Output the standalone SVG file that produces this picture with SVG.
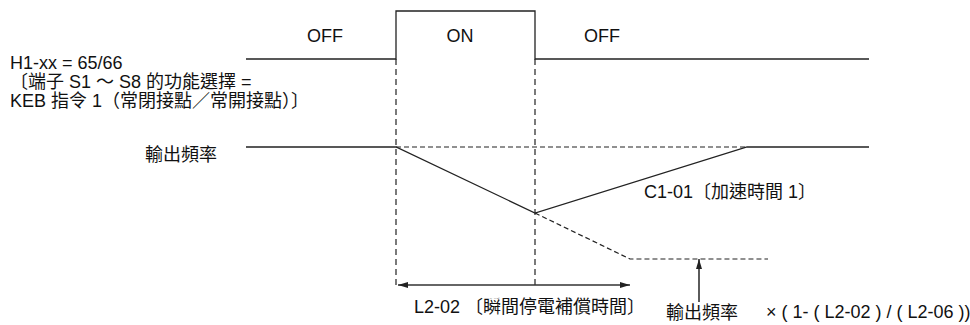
<svg xmlns="http://www.w3.org/2000/svg" width="970" height="325" viewBox="0 0 970 325">
<style>
text{font-family:"Liberation Sans","Noto Sans CJK TC",Arial,sans-serif;font-size:18px;fill:#111}
.s{fill:none;stroke:#222;stroke-width:1.3}
.d{fill:none;stroke:#222;stroke-width:1.2;stroke-dasharray:6 4}
.dh{fill:none;stroke:#222;stroke-width:1.2;stroke-dasharray:5 3}
.a{fill:none;stroke:#333;stroke-width:1.6}
</style>
<defs>
<marker id="ah" viewBox="0 0 10 6" refX="10" refY="3" markerWidth="10" markerHeight="6" markerUnits="userSpaceOnUse" orient="auto-start-reverse">
<path d="M0,0 L10,3 L0,6 z" fill="#222"/>
</marker>
</defs>
<rect width="970" height="325" fill="#fff"/>
<g id="keb-signal">
<polyline class="s" points="246,59 396,59 396,11 535,11 535,59 869,59"/>
<text x="325" y="42" text-anchor="middle">OFF</text>
<text x="460" y="42" text-anchor="middle">ON</text>
<text x="602" y="42" text-anchor="middle">OFF</text>
</g>
<g id="signal-label">
<text x="10" y="69">H1-xx = 65/66</text>
<text x="10" y="88">〔端子 S1 ～ S8 的功能選擇 =</text>
<text x="10" y="107">KEB 指令 1（常閉接點／常開接點）〕</text>
</g>
<g id="output-frequency">
<text x="145" y="161">輸出頻率</text>
<polyline class="s" points="246,147 396,147 535,213 747,147 869,147"/>
<line class="dh" x1="396" y1="147" x2="747" y2="147"/>
<polyline class="dh" points="535,213 630,259 768,259"/>
<text x="644" y="198">C1-01〔加速時間 1〕</text>
</g>
<g id="connectors">
<line class="d" x1="396" y1="59" x2="396" y2="285"/>
<line class="d" x1="535" y1="59" x2="535" y2="285"/>
<line class="a" x1="398" y1="285" x2="630" y2="285" marker-start="url(#ah)" marker-end="url(#ah)"/>
<line class="a" x1="699" y1="302" x2="699" y2="259" marker-end="url(#ah)"/>
</g>
<g id="time-label">
<text x="414" y="313">L2-02 〔瞬間停電補償時間〕</text>
</g>
<g id="level-label">
<text x="666" y="319">輸出頻率</text>
<text x="766" y="318">× ( 1- ( L2-02 ) / ( L2-06 ))</text>
</g>
</svg>
